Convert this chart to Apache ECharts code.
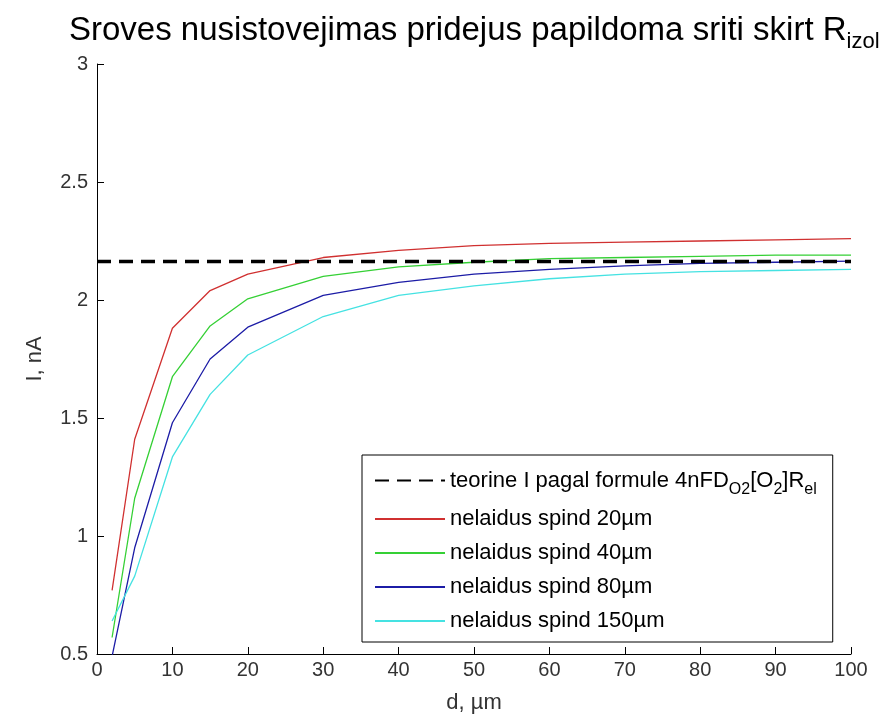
<!DOCTYPE html>
<html>
<head>
<meta charset="utf-8">
<script src="https://cdn.jsdelivr.net/npm/echarts@6/dist/echarts.min.js"></script>
<style>html,body{margin:0;padding:0;background:#fff;}#c{width:886px;height:721px;}</style>
</head>
<body>
<div id="c"></div>
<script>
// data
const dValues = [2, 5, 10, 15, 20, 30, 40, 50, 60, 70, 80, 90, 100];
const spind20 = [0.77, 1.41, 1.88, 2.04, 2.11, 2.18, 2.21, 2.23, 2.24, 2.245, 2.25, 2.255, 2.26];
const spind40 = [0.57, 1.16, 1.675, 1.89, 2.005, 2.10, 2.14, 2.16, 2.175, 2.18, 2.185, 2.19, 2.19];
const spind80 = [0.49, 0.95, 1.48, 1.75, 1.885, 2.02, 2.075, 2.11, 2.13, 2.145, 2.155, 2.16, 2.165];
const spind150 = [0.64, 0.83, 1.335, 1.6, 1.767, 1.93, 2.02, 2.06, 2.09, 2.11, 2.12, 2.125, 2.13];
const theoryX = [0, 100];
const theoryI = [2.163, 2.163];
const seriesNames = ['teorine', 'nelaidus spind 20\u00b5m', 'nelaidus spind 40\u00b5m', 'nelaidus spind 80\u00b5m', 'nelaidus spind 150\u00b5m'];
const yTicks = { min: 0.5, max: 3, step: 0.5 };
const xTicks = { min: 0, max: 100, step: 10 };

const pair = (xs, ys) => xs.map((x, i) => [x, ys[i]]);
const FONT = '"Liberation Sans", Arial, sans-serif';

const chart = echarts.init(document.getElementById('c'), null, { renderer: 'canvas' });
const lineSeries = (name, ys, color) => ({
  name, type: 'line', data: pair(dValues, ys), symbol: 'none',
  lineStyle: { color, width: 1.3 }, itemStyle: { color }, clip: true, z: 3
});

chart.setOption({
  backgroundColor: '#ffffff',
  animation: false,
  title: {
    text: '{m|Sroves nusistovejimas pridejus papildoma sriti skirt R}{s|izol}',
    left: 64, top: 11,
    textStyle: {
      rich: {
        m: { fontFamily: FONT, fontSize: 33, fontWeight: 'normal', color: '#000', lineHeight: 37, padding: [0, 0, 8, 0] },
        s: { fontFamily: FONT, fontSize: 22, fontWeight: 'normal', color: '#000', lineHeight: 25, verticalAlign: 'bottom' }
      }
    }
  },
  grid: { left: 97, right: 35, top: 64, bottom: 67 },
  xAxis: {
    type: 'value', min: xTicks.min, max: xTicks.max, interval: xTicks.step,
    name: 'd, \u00b5m', nameLocation: 'middle', nameGap: 38,
    nameTextStyle: { fontFamily: FONT, fontSize: 22, color: '#333' },
    axisLine: { show: true, onZero: false, lineStyle: { color: '#000', width: 1 } },
    axisTick: { show: true, inside: true, length: 7, lineStyle: { color: '#000' } },
    axisLabel: { fontFamily: FONT, fontSize: 20, color: '#333', margin: 6 },
    splitLine: { show: false }
  },
  yAxis: {
    type: 'value', min: yTicks.min, max: yTicks.max, interval: yTicks.step,
    name: 'I, nA', nameLocation: 'middle', nameGap: 51,
    nameTextStyle: { fontFamily: FONT, fontSize: 22, color: '#333' },
    axisLine: { show: true, onZero: false, lineStyle: { color: '#000', width: 1 } },
    axisTick: { show: true, inside: true, length: 7, lineStyle: { color: '#000' } },
    axisLabel: { fontFamily: FONT, fontSize: 20, color: '#333', margin: 9 },
    splitLine: { show: false }
  },
  legend: {
    orient: 'vertical', left: 362, top: 455,
    width: 476,
    padding: [8, 16, 8, 12],
    itemWidth: 70, itemHeight: 26, itemGap: 8,
    backgroundColor: '#fff', borderColor: '#000', borderWidth: 1,
    itemStyle: { color: 'transparent', borderWidth: 0, opacity: 0 },
    data: seriesNames,
    formatter: function (n) {
      if (n === 'teorine') return 'teorine I pagal formule 4nFD{s|O2}[O{s|2}]R{s|el}';
      return n;
    },
    textStyle: {
      fontFamily: FONT, fontSize: 22, color: '#000', lineHeight: 26,
      rich: {
        s: { fontFamily: FONT, fontSize: 16, color: '#000', lineHeight: 16, padding: [19, 0, 0, 0] }
      }
    }
  },
  series: [
    {
      name: seriesNames[0], type: 'line', data: pair(theoryX, theoryI), symbol: 'none',
      lineStyle: { color: '#000', width: 3.5, type: [14, 8] }, itemStyle: { color: '#000' }, z: 4
    },
    lineSeries(seriesNames[1], spind20, '#d03030'),
    lineSeries(seriesNames[2], spind40, '#35d035'),
    lineSeries(seriesNames[3], spind80, '#1c1ca6'),
    lineSeries(seriesNames[4], spind150, '#45e2e2')
  ]
});
</script>
</body>
</html>
